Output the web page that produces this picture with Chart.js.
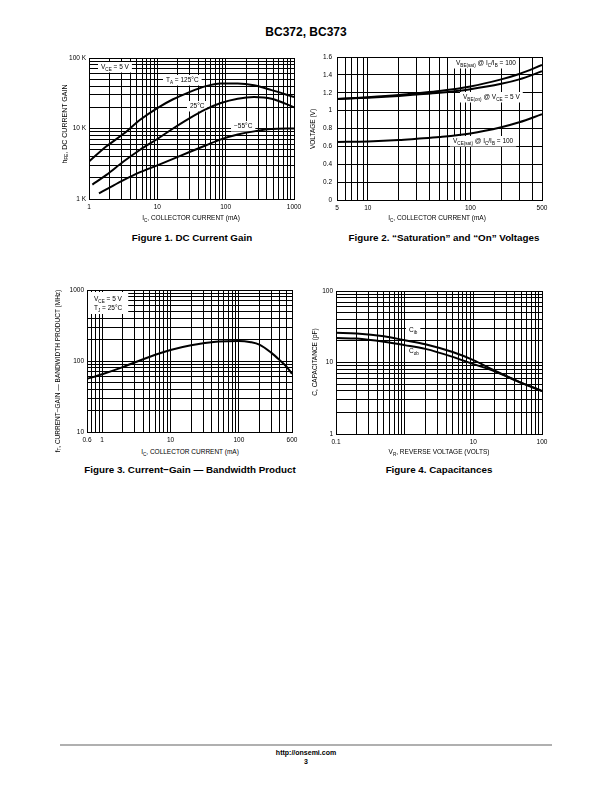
<!DOCTYPE html>
<html>
<head>
<meta charset="utf-8">
<script src="https://cdn.jsdelivr.net/npm/chart.js@4.4.0/dist/chart.umd.min.js"></script>
<style>
body { margin: 0; width: 612px; height: 792px; background: #fff; position: relative; overflow: hidden;
  font-family: "Liberation Sans", Arial, sans-serif; color: #000; }
canvas { position: absolute; z-index: 1; }
.t { position: absolute; font-size: 6.5px; white-space: nowrap; line-height: 1; z-index: 2; }
.t sub, .lbl sub { font-size: 4.6px; vertical-align: -1.5px; line-height: 0; }
.xt { transform: translateX(-50%); }
.yt { transform: translate(-50%, -50%) rotate(-90deg); }
.cap { position: absolute; font-weight: bold; font-size: 9.8px; white-space: nowrap; transform: translateX(-50%); line-height: 1; }
.lbl { position: absolute; font-size: 6.5px; white-space: nowrap; line-height: 1; padding: 2px 3px; z-index: 2; }
#head { position: absolute; left: 306px; top: 25px; transform: translateX(-50%); font-weight: bold; font-size: 12px; }
#rule { position: absolute; left: 60px; top: 744px; width: 492px; height: 1.5px; background: #b0b0b0; }
#foot { position: absolute; left: 306px; top: 748px; transform: translateX(-50%); font-weight: bold; font-size: 7px;
  text-align: center; line-height: 9px; color: #000; -webkit-font-smoothing: antialiased; }
</style>
</head>
<body>
<div id="head">BC372, BC373</div>

<canvas id="fig1" width="253" height="165" style="left:53px;top:50px"></canvas>
<div class="t yt" style="left:64px;top:124px;font-size:7px">h<sub>FE</sub>, DC CURRENT GAIN</div>
<div class="t xt" style="left:191px;top:215px">I<sub>C</sub>, COLLECTOR CURRENT (mA)</div>
<div class="cap" style="left:192px;top:233px">Figure 1. DC Current Gain</div>
<div class="lbl" id="l1a" style="left:98px;top:62px">V<sub>CE</sub> = 5 V</div>
<div class="lbl" id="l1b" style="left:163px;top:75px">T<sub>A</sub> = 125°C</div>
<div class="lbl" id="l1c" style="left:187px;top:101px">25°C</div>
<div class="lbl" id="l1d" style="left:231px;top:121px">−55°C</div>

<canvas id="fig2" width="247" height="167" style="left:307px;top:49px"></canvas>
<div class="t yt" style="left:313px;top:129px">VOLTAGE (V)</div>
<div class="t xt" style="left:437px;top:215px">I<sub>C</sub>, COLLECTOR CURRENT (mA)</div>
<div class="cap" style="left:444px;top:233px">Figure 2. “Saturation” and “On” Voltages</div>
<div class="lbl" id="l2a" style="left:453px;top:58px">V<sub>BE(sat)</sub> @ I<sub>C</sub>/I<sub>B</sub> = 100</div>
<div class="lbl" id="l2b" style="left:460px;top:92px">V<sub>BE(on)</sub> @ V<sub>CE</sub> = 5 V</div>
<div class="lbl" id="l2c" style="left:450px;top:136px">V<sub>CE(sat)</sub> @ I<sub>C</sub>/I<sub>B</sub> = 100</div>

<canvas id="fig3" width="253" height="166" style="left:51px;top:282px"></canvas>
<div class="t yt" style="left:58px;top:371px">f<sub>T</sub>, CURRENT−GAIN — BANDWIDTH PRODUCT (MHz)</div>
<div class="t xt" style="left:190px;top:449px">I<sub>C</sub>, COLLECTOR CURRENT (mA)</div>
<div class="cap" style="left:190px;top:465px">Figure 3. Current−Gain — Bandwidth Product</div>
<div class="lbl" id="l3a" style="left:88px;top:292px;line-height:9px;padding:2px 6px">V<sub>CE</sub> = 5 V<br>T<sub>J</sub> = 25°C</div>

<canvas id="fig4" width="248" height="167" style="left:306px;top:283px"></canvas>
<div class="t yt" style="left:315px;top:362px">C, CAPACITANCE (pF)</div>
<div class="t xt" style="left:439px;top:449px">V<sub>R</sub>, REVERSE VOLTAGE (VOLTS)</div>
<div class="cap" style="left:439px;top:465px">Figure 4. Capacitances</div>
<div class="lbl" id="l4a" style="left:406px;top:325px">C<sub>ib</sub></div>
<div class="lbl" id="l4b" style="left:406px;top:346px">C<sub>ob</sub></div>

<div id="rule"></div>
<div id="foot">http://onsemi.com<br>3</div>

<script>
"use strict";
// Figure 1: DC current gain (hFE in thousands) vs collector current (mA)
var fig1Current125 = [1, 1.8, 3.2, 5.6, 10, 17, 29, 50, 85, 150, 260, 470, 1000];
var fig1Gain125 = [3.4, 5.6, 8.4, 13.3, 19.5, 26, 32.6, 39.6, 43.5, 43.5, 41, 35, 28];
var fig1Current25 = [1.12, 1.8, 3.2, 5.6, 10, 17, 29, 50, 85, 150, 260, 470, 1000];
var fig1Gain25 = [1.6, 2.2, 3.4, 5, 7.1, 10, 13.8, 18.5, 23, 26.5, 28, 26.5, 20];
var fig1CurrentM55 = [1.4, 2, 3.2, 5.6, 10, 17, 29, 50, 85, 150, 260, 470, 1000];
var fig1GainM55 = [1.2, 1.45, 1.85, 2.4, 3.0, 3.7, 4.6, 5.7, 7, 8.2, 9.1, 9.8, 10];
var fig1XLabels = [1, 10, 100, 1000];
var fig1YLabels = [1, 10, 100];

// Figure 2: voltages (V) vs collector current (mA)
var fig2Current = [5, 10, 20, 30, 50, 100, 200, 300, 500];
var fig2VbeSat = [1.13, 1.15, 1.175, 1.195, 1.22, 1.27, 1.35, 1.41, 1.51];
var fig2VbeOn = [1.13, 1.145, 1.165, 1.18, 1.2, 1.24, 1.3, 1.35, 1.44];
var fig2VceSat = [0.65, 0.655, 0.67, 0.685, 0.705, 0.745, 0.815, 0.87, 0.96];
var fig2XLabels = [5, 10, 100, 500];

// Figure 3: fT (MHz) vs collector current (mA)
var fig3Current = [0.6, 1, 2, 5, 10, 20, 50, 100, 150, 200, 300, 400, 500, 600];
var fig3Ft = [56, 65, 82, 115, 143, 167, 188, 192, 184, 170, 130, 102, 83, 66];
var fig3XLabels = [0.6, 1, 10, 100, 600];
var fig3YLabels = [10, 100, 1000];

// Figure 4: capacitance (pF) vs reverse voltage (V)
var fig4Voltage = [0.1, 0.2, 0.5, 1, 2, 5, 10, 20, 50, 100];
var fig4Cib = [26, 25.5, 23.3, 20.5, 18, 14, 10.8, 7.8, 5.2, 4.0];
var fig4Cob = [22, 21.6, 19.5, 17.5, 15.5, 12, 9.5, 7.6, 5.2, 4.0];
var fig4XLabels = [0.1, 10, 100];
var fig4YLabels = [1, 10, 100];

var FONT = { family: '"Liberation Sans", Arial, sans-serif', size: 6.5 };

function gridValues(lo, hi) {
    var out = [];
    for (var p = 1e-3; p <= hi; p *= 10) {
        for (var m = 1; m <= 9; m++) {
            var v = parseFloat((m * p).toPrecision(6));
            if (v >= lo * 0.9999 && v <= hi * 1.0001) out.push(v);
        }
    }
    return out;
}

function fitter(isY, size) {
    return function (s) {
        if (isY) { s.width = size; s.paddingTop = 0; s.paddingBottom = 0; }
        else { s.height = size; s.paddingLeft = 0; s.paddingRight = 0; }
    };
}

function pick(labels, v, fmt) {
    for (var i = 0; i < labels.length; i++) {
        if (Math.abs(labels[i] - v) / labels[i] < 1e-6) return fmt(labels[i]);
    }
    return '';
}

function logAxis(lo, hi, labels, fmt, isY, size) {
    return {
        type: 'logarithmic', min: lo, max: hi,
        afterBuildTicks: function (s) { s.ticks = gridValues(lo, hi).map(function (v) { return { value: v }; }); },
        afterFit: fitter(isY, size),
        grid: { color: '#000', lineWidth: 1, drawTicks: false },
        border: { color: '#000', width: 1 },
        ticks: { autoSkip: false, maxRotation: 0, padding: isY ? 3 : 4, color: '#000', font: FONT,
            callback: function (v) { return pick(labels, v, fmt); } }
    };
}

function series(xs, ys) {
    return { data: xs.map(function (x, i) { return { x: x, y: ys[i] }; }),
        borderColor: '#000', borderWidth: 2, pointRadius: 0, fill: false, cubicInterpolationMode: 'monotone' };
}

var boxPlugin = {
    id: 'boxes',
    beforeDatasetsDraw: function (chart, args, opts) {
        var ctx = chart.ctx, cr = chart.canvas.getBoundingClientRect();
        ctx.save();
        ctx.fillStyle = '#fff';
        (opts.ids || []).forEach(function (id) {
            var r = document.getElementById(id).getBoundingClientRect();
            ctx.fillRect(r.left - cr.left, r.top - cr.top, r.width, r.height);
        });
        ctx.restore();
    }
};

function make(id, datasets, x, y, boxes) {
    return new Chart(document.getElementById(id), {
        type: 'line',
        data: { datasets: datasets },
        options: {
            responsive: false, animation: false, devicePixelRatio: 1,
            layout: { padding: { top: 8, right: 12, left: 0, bottom: 0 } },
            plugins: { legend: { display: false }, tooltip: { enabled: false }, boxes: { ids: boxes } },
            scales: { x: x, y: y }
        },
        plugins: [boxPlugin]
    });
}

var plain = function (v) { return String(v); };

make('fig1',
    [series(fig1Current125, fig1Gain125), series(fig1Current25, fig1Gain25), series(fig1CurrentM55, fig1GainM55)],
    logAxis(1, 1000, fig1XLabels, plain, false, 16),
    logAxis(1, 100, fig1YLabels, function (v) { return v + ' K'; }, true, 36),
    ['l1a', 'l1b', 'l1c', 'l1d']);

make('fig2',
    [series(fig2Current, fig2VbeSat), series(fig2Current, fig2VbeOn), series(fig2Current, fig2VceSat)],
    logAxis(5, 500, fig2XLabels, plain, false, 16),
    {
        type: 'linear', min: 0, max: 1.6,
        afterFit: fitter(true, 30),
        grid: { color: '#000', lineWidth: 1, drawTicks: false },
        border: { color: '#000', width: 1 },
        ticks: { stepSize: 0.2, padding: 5, color: '#000', font: FONT,
            callback: function (v) { return String(Math.round(v * 10) / 10); } }
    },
    ['l2a', 'l2b', 'l2c']);

make('fig3',
    [series(fig3Current, fig3Ft)],
    logAxis(0.6, 600, fig3XLabels, plain, false, 16),
    logAxis(10, 1000, fig3YLabels, plain, true, 36),
    ['l3a']);

make('fig4',
    [series(fig4Voltage, fig4Cib), series(fig4Voltage, fig4Cob)],
    logAxis(0.1, 100, fig4XLabels, plain, false, 16),
    logAxis(1, 100, fig4YLabels, plain, true, 30),
    ['l4a', 'l4b']);
</script>
</body>
</html>
